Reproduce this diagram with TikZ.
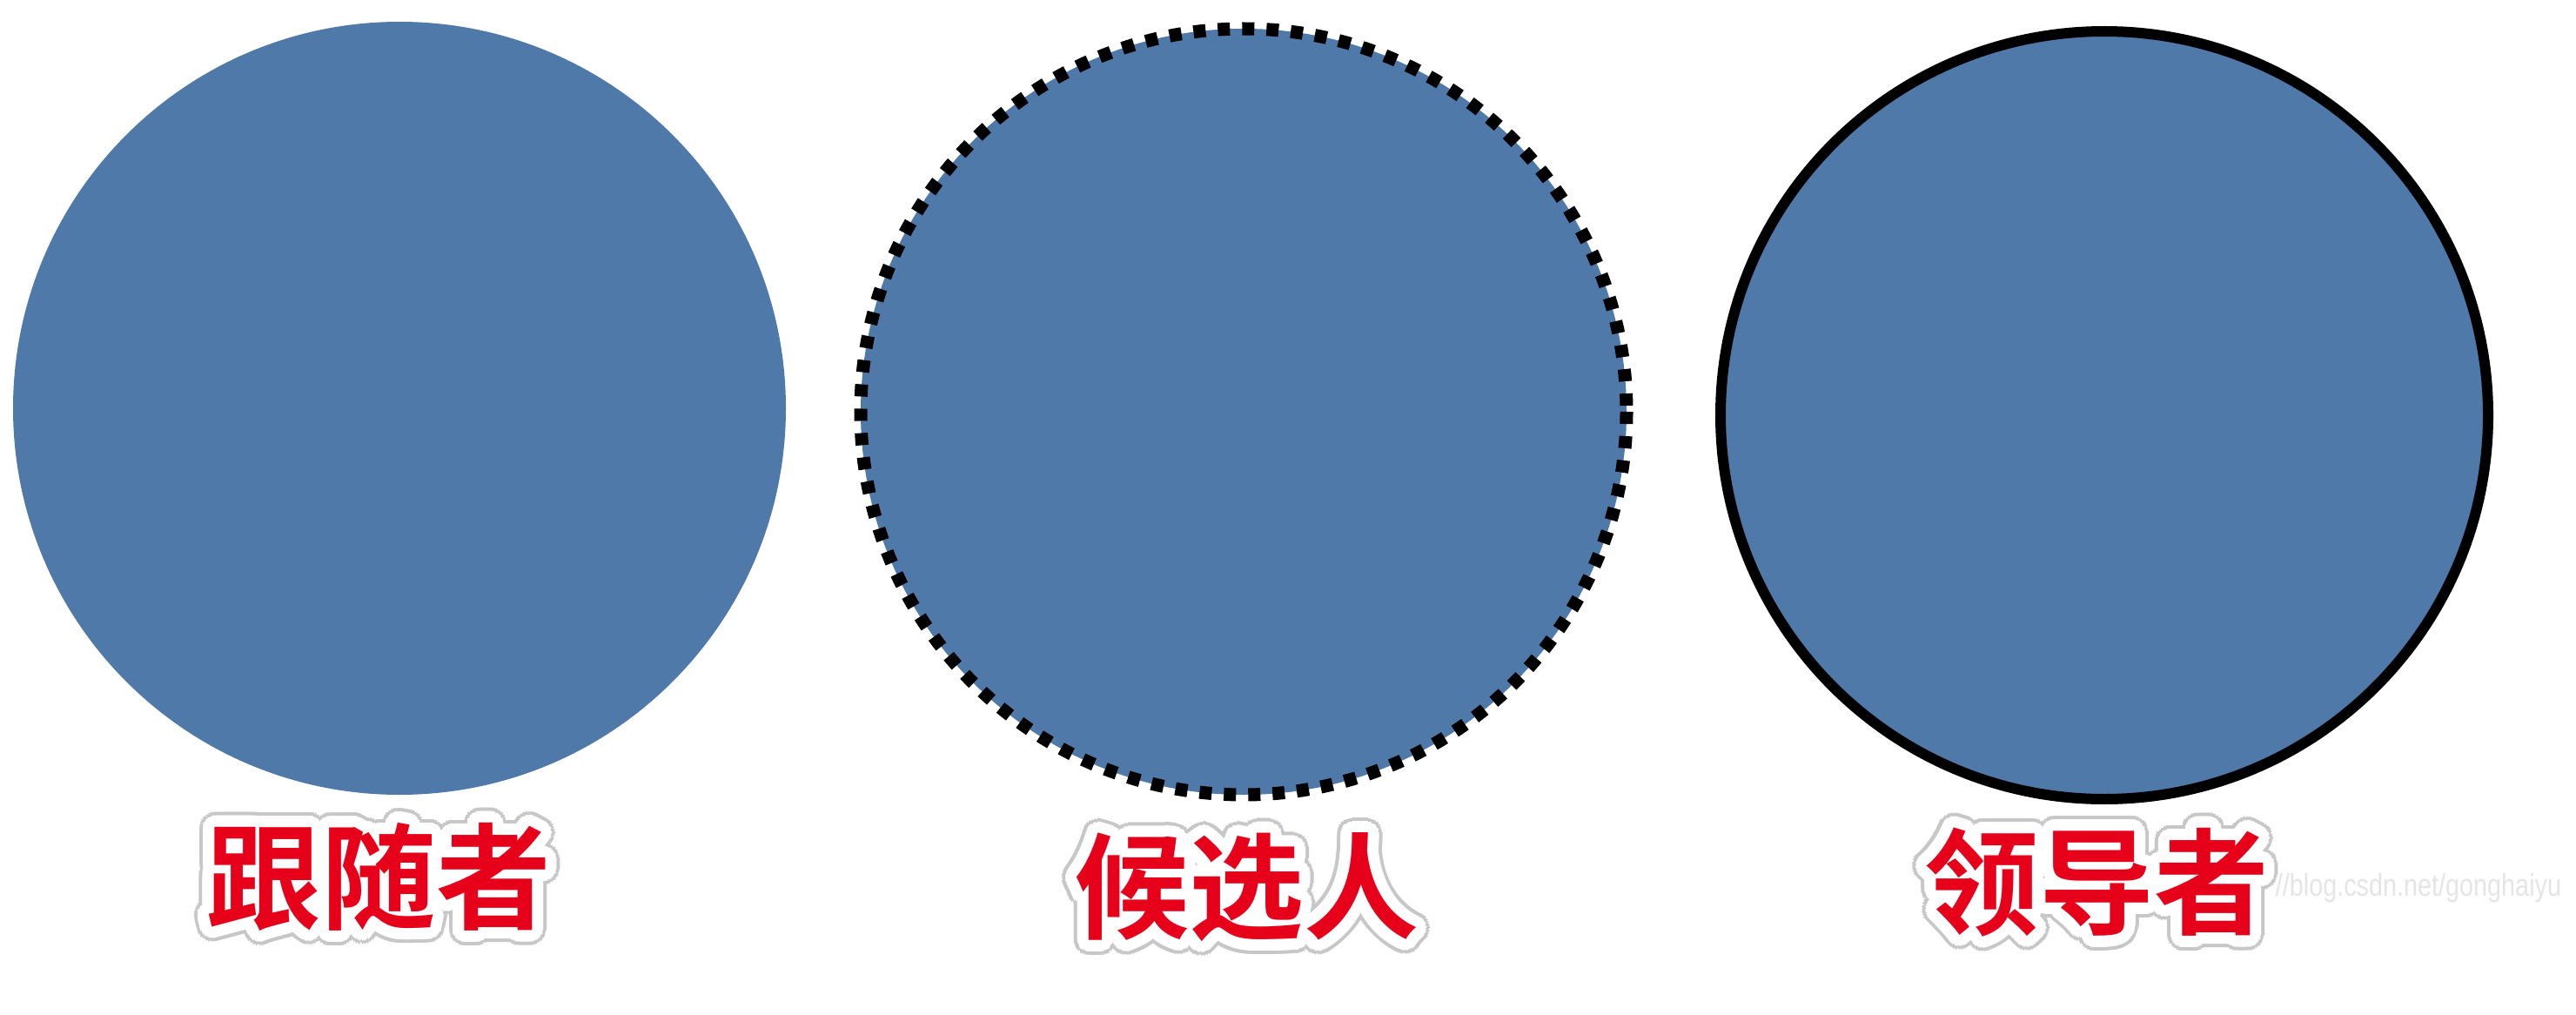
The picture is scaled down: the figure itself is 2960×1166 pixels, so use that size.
\documentclass[tikz,border=0pt]{standalone}
\usepackage{fontspec}
\newfontfamily\cjk{Noto Sans CJK SC}[BoldFont={Noto Sans CJK SC Bold}]
\setsansfont{Liberation Sans}
\usepackage[copies]{contour}
\definecolor{circblue}{RGB}{78,121,168}
\definecolor{labelred}{RGB}{230,0,25}
\newcommand{\halolabel}[1]{%
  \rlap{\contourlength{17pt}\contournumber{32}\contour{black!22}{#1}}%
  \contourlength{13pt}\contournumber{32}\contour{white}{#1}}
\tikzset{
  role/.style={fill=circblue},
  rolelabel/.style={font=\cjk\bfseries\fontsize{132}{140}\selectfont, text=labelred, inner sep=0pt},
}
\begin{document}
\begin{tikzpicture}[x=1pt,y=-1pt]
\useasboundingbox[fill=white] (0,0) rectangle (2960,1166);
% follower
\path[role] (459,469) circle (444);
\coordinate (follower) at (459,469);
% candidate
\path[role, draw=black, line width=15pt, dash pattern=on 14pt off 14pt] (1429,473) circle (440);
\coordinate (candidate) at (1429,473);
% leader
\path[role, draw=black, line width=12pt] (2418,477) circle (441);
\coordinate (leader) at (2418,477);
% labels
\node[rolelabel] (lf) at (435,1016) {\halolabel{跟随者}};
\node[rolelabel] (lc) at (1432,1028) {\halolabel{候选人}};
\node[rolelabel] (ll) at (2409,1022) {\halolabel{领导者}};
\node[font=\sffamily\fontsize{36}{40}\selectfont, text=black!10, xscale=0.8, anchor=west] (wm) at (2612,1020) {//blog.csdn.net/gonghaiyu};
\end{tikzpicture}
\end{document}
